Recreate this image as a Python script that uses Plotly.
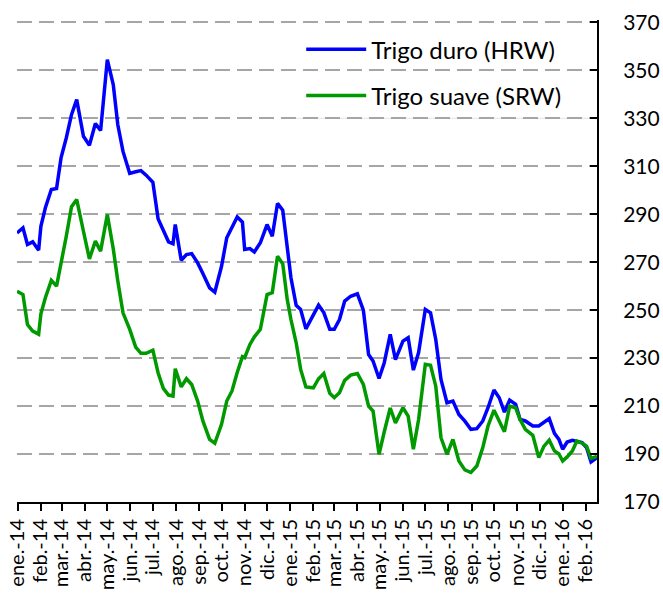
import plotly.graph_objects as go

dates = [
    "2013-12-31", "2014-01-08", "2014-01-14", "2014-01-21", "2014-01-29", "2014-02-01",
    "2014-02-07", "2014-02-15", "2014-02-22", "2014-02-28", "2014-03-07", "2014-03-14",
    "2014-03-21", "2014-03-30", "2014-04-07", "2014-04-15", "2014-04-22", "2014-05-01",
    "2014-05-09", "2014-05-15", "2014-05-22", "2014-05-31", "2014-06-08", "2014-06-15",
    "2014-06-22", "2014-07-01", "2014-07-08", "2014-07-15", "2014-07-22", "2014-07-28",
    "2014-07-31", "2014-08-08", "2014-08-15", "2014-08-22", "2014-08-30", "2014-09-06",
    "2014-09-15", "2014-09-22", "2014-10-01", "2014-10-08", "2014-10-15", "2014-10-22",
    "2014-10-29", "2014-11-01", "2014-11-08", "2014-11-14", "2014-11-22", "2014-12-01",
    "2014-12-08", "2014-12-15", "2014-12-22", "2014-12-28", "2015-01-02", "2015-01-09",
    "2015-01-15", "2015-01-22", "2015-02-01", "2015-02-08", "2015-02-15", "2015-02-23",
    "2015-03-01", "2015-03-08", "2015-03-15", "2015-03-23", "2015-04-01", "2015-04-09",
    "2015-04-16", "2015-04-22", "2015-04-30", "2015-05-07", "2015-05-15", "2015-05-22",
    "2015-06-01", "2015-06-08", "2015-06-15", "2015-06-22", "2015-07-01", "2015-07-08",
    "2015-07-15", "2015-07-22", "2015-07-30", "2015-08-07", "2015-08-15", "2015-08-23",
    "2015-08-31", "2015-09-08", "2015-09-16", "2015-09-23", "2015-10-01", "2015-10-08",
    "2015-10-15", "2015-10-22", "2015-10-30", "2015-11-05", "2015-11-12", "2015-11-22",
    "2015-11-30", "2015-12-07", "2015-12-14", "2015-12-21", "2015-12-27", "2016-01-01",
    "2016-01-07", "2016-01-14", "2016-01-20", "2016-01-27", "2016-02-02", "2016-02-08",
    "2016-02-16",
]

hrw = [
    282.2, 284.3, 277.4, 278.5, 275.0, 285.0,
    292.7, 300.3, 300.7, 313.5, 321.8, 331.5,
    337.8, 322.5, 318.8, 327.8, 324.9, 354.5,
    344.0, 327.4, 316.2, 307.0, 307.7, 308.2,
    306.3, 303.3, 288.1, 283.3, 278.5, 277.7,
    285.7, 270.8, 273.2, 273.6, 269.7, 265.3,
    259.3, 257.5, 268.3, 280.2, 284.5, 288.9,
    286.7, 275.3, 275.7, 274.3, 278.1, 285.7,
    280.8, 294.5, 291.7, 275.3, 263.5, 252.0,
    250.3, 242.2, 248.2, 252.1, 249.0, 242.0,
    242.0, 246.1, 253.8, 255.8, 256.8, 250.0,
    231.5, 228.8, 221.5, 228.1, 239.9, 229.4,
    237.1, 238.5, 225.0, 232.3, 250.3, 248.9,
    237.8, 221.1, 211.4, 212.1, 206.5, 203.7,
    200.3, 200.6, 203.8, 209.3, 216.7, 213.5,
    207.5, 212.5, 210.7, 204.4, 203.8, 201.7,
    201.7, 203.1, 204.8, 198.6, 196.1, 192.0,
    195.0, 195.7, 195.4, 194.8, 192.7, 186.7,
    188.5,
]

srw = [
    257.9, 256.5, 244.0, 241.3, 240.0, 248.5,
    255.2, 262.4, 260.0, 269.0, 280.8, 293.1,
    296.1, 282.9, 271.4, 278.8, 274.6, 289.9,
    275.5, 262.3, 248.9, 242.0, 234.6, 232.0,
    232.0, 233.3, 223.9, 217.4, 214.6, 214.2,
    225.6, 218.0, 221.4, 219.0, 212.1, 203.8,
    196.1, 194.5, 202.4, 212.1, 216.3, 224.0,
    230.6, 230.2, 235.7, 238.9, 242.0, 256.5,
    257.3, 272.5, 269.3, 254.5, 246.1, 236.4,
    225.3, 218.0, 217.6, 221.4, 223.6, 215.3,
    213.5, 215.6, 220.7, 222.9, 223.6, 219.0,
    210.0, 207.9, 189.9, 199.3, 209.2, 203.0,
    209.3, 205.8, 192.0, 204.4, 227.4, 227.0,
    218.3, 196.8, 189.9, 196.1, 187.1, 183.4,
    182.3, 185.0, 192.7, 201.7, 208.3, 203.8,
    199.3, 210.0, 209.3, 204.4, 200.3, 197.8,
    188.5, 193.3, 195.8, 191.3, 190.0, 187.1,
    188.8, 191.3, 195.4, 194.5, 193.3, 188.2,
    189.0,
]

month_ticks = [
    "2014-01-01", "2014-02-01", "2014-03-01", "2014-04-01", "2014-05-01", "2014-06-01",
    "2014-07-01", "2014-08-01", "2014-09-01", "2014-10-01", "2014-11-01", "2014-12-01",
    "2015-01-01", "2015-02-01", "2015-03-01", "2015-04-01", "2015-05-01", "2015-06-01",
    "2015-07-01", "2015-08-01", "2015-09-01", "2015-10-01", "2015-11-01", "2015-12-01",
    "2016-01-01", "2016-02-01",
]
month_labels = [
    "ene.-14", "feb.-14", "mar.-14", "abr.-14", "may.-14", "jun.-14",
    "jul.-14", "ago.-14", "sep.-14", "oct.-14", "nov.-14", "dic.-14",
    "ene.-15", "feb.-15", "mar.-15", "abr.-15", "may.-15", "jun.-15",
    "jul.-15", "ago.-15", "sep.-15", "oct.-15", "nov.-15", "dic.-15",
    "ene.-16", "feb.-16",
]
y_ticks = [170, 190, 210, 230, 250, 270, 290, 310, 330, 350, 370]

FONT = "Lato, 'Open Sans', sans-serif"

fig = go.Figure()
fig.add_trace(go.Scatter(x=dates, y=hrw, mode="lines", name="Trigo duro (HRW)",
                         legendgroup="a", line=dict(color="#0000FF", width=3.5)))
fig.add_trace(go.Scatter(x=dates, y=srw, mode="lines", name="Trigo suave (SRW)",
                         legendgroup="b", line=dict(color="#009900", width=3.5)))

# white legend panel covering the gridlines (drawn above grid, below traces)
fig.add_shape(type="rect", xref="paper", yref="y", x0=0.4586, x1=0.9884, y0=329.4, y1=367,
              fillcolor="white", line=dict(width=0), layer="between")
fig.add_shape(type="line", xref="paper", yref="y", x0=0.4586, x1=0.9884, y0=330, y1=330,
              line=dict(color="#e3e3e3", width=1), layer="between")

fig.update_layout(
    width=663, height=604,
    margin=dict(l=17, r=66, t=20, b=102, autoexpand=False),
    paper_bgcolor="white", plot_bgcolor="white",
    font=dict(family=FONT, size=20, color="black"),
    showlegend=True,
    legend=dict(
        x=0.49, y=0.985, xanchor="left", yanchor="top",
        bgcolor="rgba(255,255,255,0)", borderwidth=0,
        font=dict(family=FONT, size=24, color="black"),
        tracegroupgap=12, traceorder="grouped",
        itemwidth=60,
    ),
    xaxis=dict(
        type="date",
        range=["2013-12-31", "2016-02-16"],
        tickmode="array", tickvals=month_ticks, ticktext=month_labels,
        tickangle=-90,
        ticks="outside", ticklen=7, tickwidth=2, tickcolor="black",
        showline=True, linecolor="black", linewidth=2,
        showgrid=False, zeroline=False, automargin=False,
        ticklabeloverflow="allow",
        tickfont=dict(family=FONT, size=20, color="black"),
    ),
    yaxis=dict(
        side="right",
        range=[170, 371],
        tickmode="array", tickvals=y_ticks,
        ticks="inside", ticklen=7, tickwidth=2, tickcolor="black",
        showline=True, linecolor="black", linewidth=2,
        showgrid=True, gridcolor="#a6a6a6", gridwidth=2, griddash="15px,7px",
        zeroline=False, automargin=False,
        ticklabelstandoff=20, ticklabeloverflow="allow",
        tickfont=dict(family=FONT, size=21, color="black"),
    ),
)

# remove the browser's default 8 px page margin so the figure fills the window
fig.write_html("out.html", config={"displayModeBar": False},
               post_script="document.body.style.margin='0';")
